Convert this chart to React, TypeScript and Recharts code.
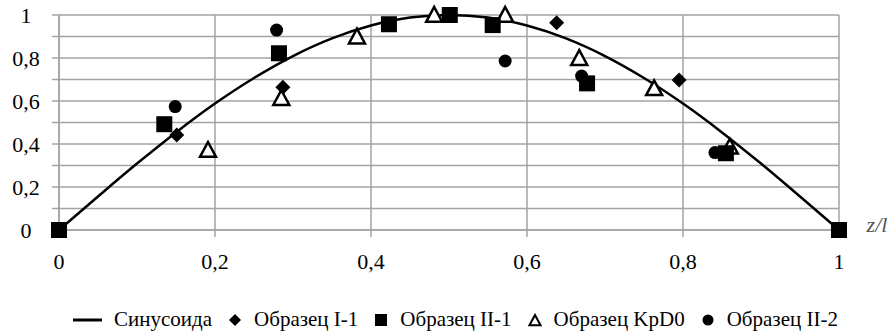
import React from 'react';
import { ComposedChart, Line, Scatter, XAxis, YAxis, CartesianGrid } from 'recharts';

document.body.style.margin = '0';

const FONT = "'Liberation Serif', 'Times New Roman', Tinos, serif";
const GRID = '#a3a3a3';

// sinusoid
const sineX = [0, 0.05, 0.1, 0.15, 0.2, 0.25, 0.3, 0.35, 0.4, 0.45, 0.5, 0.55, 0.6, 0.65, 0.7, 0.75, 0.8, 0.85, 0.9, 0.95, 1];
const sineY = [0, 0.156, 0.309, 0.454, 0.588, 0.707, 0.809, 0.891, 0.951, 0.988, 1, 0.988, 0.951, 0.891, 0.809, 0.707, 0.588, 0.454, 0.309, 0.156, 0];

// Образец I-1 (diamonds)
const i1X = [0, 0.151, 0.287, 0.638, 0.795, 0.86, 1];
const i1Y = [0, 0.442, 0.664, 0.964, 0.698, 0.37, 0];

// Образец II-1 (squares)
const ii1X = [0, 0.135, 0.282, 0.423, 0.501, 0.556, 0.677, 0.855, 1];
const ii1Y = [0, 0.492, 0.822, 0.957, 1.0, 0.953, 0.682, 0.357, 0];

// Образец KpD0 (open triangles)
const kpX = [0.191, 0.285, 0.382, 0.481, 0.572, 0.667, 0.763, 0.86];
const kpY = [0.372, 0.613, 0.899, 1.0, 1.0, 0.799, 0.659, 0.387];

// Образец II-2 (circles)
const ii2X = [0.149, 0.279, 0.572, 0.67, 0.841];
const ii2Y = [0.574, 0.93, 0.786, 0.716, 0.36];

const xTicks = [0, 0.2, 0.4, 0.6, 0.8, 1];
const yTicks = [0, 0.1, 0.2, 0.3, 0.4, 0.5, 0.6, 0.7, 0.8, 0.9, 1];
const yLabeled = [0, 0.2, 0.4, 0.6, 0.8, 1];

const legendNames = ['Синусоида', 'Образец I-1', 'Образец II-1', 'Образец KpD0', 'Образец II-2'];
const legendSyms = ['line', 'diamond', 'square', 'triangle', 'circle'];

const zip = (xs: number[], ys: number[]) => xs.map((x, i) => ({ x, y: ys[i] }));

const sine = zip(sineX, sineY);
const i1 = zip(i1X, i1Y);
const ii1 = zip(ii1X, ii1Y);
const kp = zip(kpX, kpY);
const ii2 = zip(ii2X, ii2Y);

const fmt = (v: number) => (v === 0 || v === 1 ? String(v) : v.toFixed(1).replace('.', ','));

const YTick = (props: any) => {
  const { x, y, payload } = props;
  if (!yLabeled.some(v => Math.abs(v - payload.value) < 1e-6)) return null;
  return (
    <text x={x - 26} y={y + 8} textAnchor="middle" fontFamily={FONT} fontSize={22} fill="#000">
      {fmt(payload.value)}
    </text>
  );
};

const XTick = (props: any) => {
  const { x, y, payload } = props;
  return (
    <text x={x} y={y + 32} textAnchor="middle" fontFamily={FONT} fontSize={22} fill="#000">
      {fmt(payload.value)}
    </text>
  );
};

const Diamond = ({ cx, cy, s = 7.5 }: any) => (
  <polygon points={`${cx},${cy - s} ${cx + s},${cy} ${cx},${cy + s} ${cx - s},${cy}`} fill="#000" />
);
const Square = ({ cx, cy, s = 8 }: any) => <rect x={cx - s} y={cy - s} width={s * 2} height={s * 2} fill="#000" />;
const Triangle = ({ cx, cy, s = 8, w = 2.5 }: any) => (
  <polygon
    points={`${cx},${cy - s} ${cx + s},${cy + s * 0.85} ${cx - s},${cy + s * 0.85}`}
    fill="#fff"
    stroke="#000"
    strokeWidth={w}
    strokeLinejoin="miter"
  />
);
const Dot = ({ cx, cy, r = 6.5 }: any) => <circle cx={cx} cy={cy} r={r} fill="#000" />;

const LegendSymbol = ({ sym }: { sym: string }) => {
  if (sym === 'line')
    return (
      <svg width={29} height={14} style={{ display: 'block' }}>
        <line x1={0} y1={7} x2={29} y2={7} stroke="#000" strokeWidth={3} />
      </svg>
    );
  return (
    <svg width={14} height={14} style={{ display: 'block' }}>
      {sym === 'diamond' && <Diamond cx={7} cy={7} s={6} />}
      {sym === 'square' && <Square cx={7} cy={7} s={6} />}
      {sym === 'triangle' && <Triangle cx={7} cy={7.5} s={5.5} w={2} />}
      {sym === 'circle' && <Dot cx={7} cy={7} r={5.5} />}
    </svg>
  );
};

const AxisName = (props: any) => {
  const { viewBox } = props;
  return (
    <text
      x={viewBox.x + viewBox.width + 38}
      y={viewBox.y + 2}
      textAnchor="middle"
      fontFamily={FONT}
      fontSize={22}
      fontStyle="italic"
      fill="#555"
    >
      z/l
    </text>
  );
};

export default function App() {
  return (
    <div style={{ position: 'relative', width: 896, height: 332, background: '#fff', overflow: 'hidden', fontFamily: FONT }}>
      <ComposedChart width={896} height={332} margin={{ top: 15, right: 57, left: 0, bottom: 52 }}>
        <CartesianGrid stroke={GRID} strokeWidth={1.5} horizontalValues={yTicks} verticalValues={xTicks} />
        <XAxis
          type="number"
          dataKey="x"
          domain={[0, 1]}
          ticks={xTicks}
          height={50}
          stroke={GRID}
          strokeWidth={1.5}
          tickSize={7}
          tickMargin={0}
          tick={<XTick />}
          label={<AxisName />}
        />
        <YAxis
          type="number"
          dataKey="y"
          domain={[0, 1]}
          ticks={yTicks}
          interval={0}
          width={59}
          stroke={GRID}
          strokeWidth={1.5}
          tickSize={7}
          tickMargin={0}
          tick={<YTick />}
        />
        <Line data={sine} dataKey="y" type="monotone" stroke="#000" strokeWidth={2.5} dot={false} isAnimationActive={false} />
        <Scatter data={ii2} shape={(p: any) => <Dot cx={p.cx} cy={p.cy} />} isAnimationActive={false} />
        <Scatter data={i1} shape={(p: any) => <Diamond cx={p.cx} cy={p.cy} />} isAnimationActive={false} />
        <Scatter data={kp} shape={(p: any) => <Triangle cx={p.cx} cy={p.cy} />} isAnimationActive={false} />
        <Scatter data={ii1} shape={(p: any) => <Square cx={p.cx} cy={p.cy} />} isAnimationActive={false} />
      </ComposedChart>
      <div
        style={{
          position: 'absolute',
          left: 73,
          top: 307,
          height: 25,
          display: 'flex',
          alignItems: 'center',
          whiteSpace: 'nowrap',
          fontSize: 21,
          lineHeight: '25px',
          color: '#000',
        }}
      >
        {legendNames.map((name, i) => (
          <div key={name} style={{ display: 'flex', alignItems: 'center', marginRight: 16 }}>
            <LegendSymbol sym={legendSyms[i]} />
            <span style={{ marginLeft: 12 }}>{name}</span>
          </div>
        ))}
      </div>
    </div>
  );
}
